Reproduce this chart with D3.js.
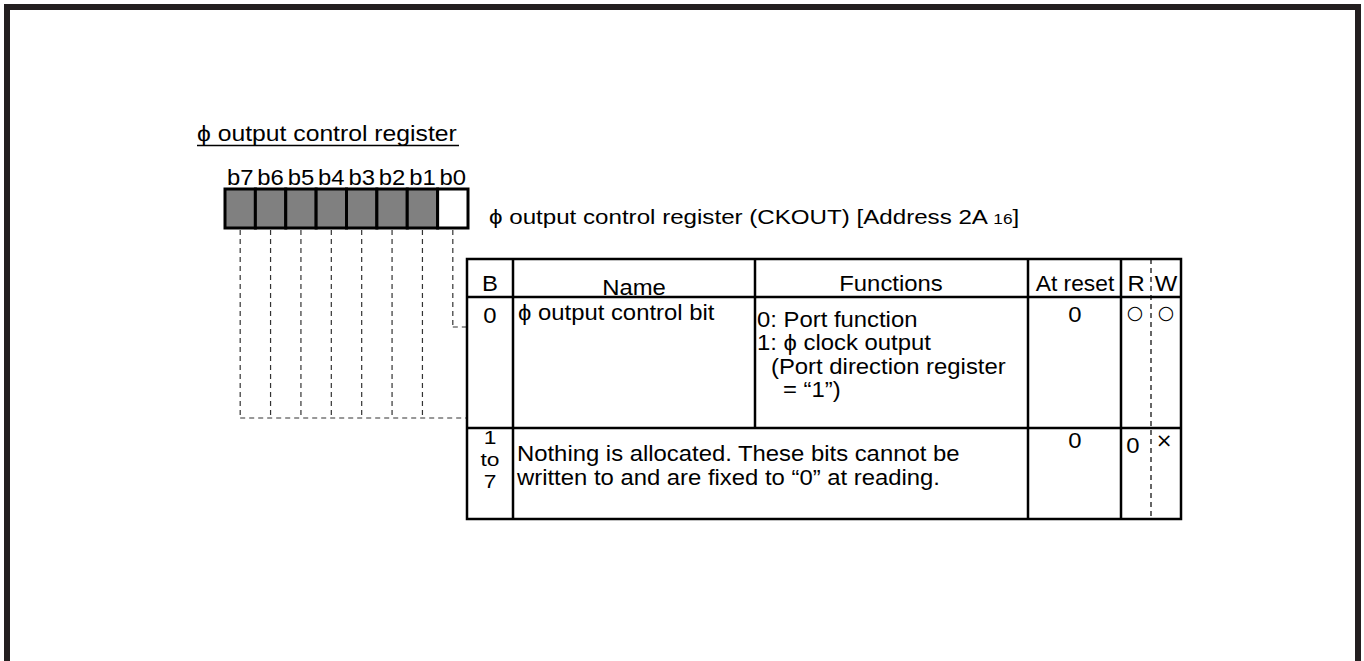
<!DOCTYPE html>
<html><head><meta charset="utf-8">
<script src="https://cdn.jsdelivr.net/npm/d3@7"></script>
<style>html,body{margin:0;padding:0;background:#fff;}svg{display:block;}</style>
</head><body>
<script>
// ---- data ----
const title = "\u03d5 output control register";
const bits = ["b7","b6","b5","b4","b3","b2","b1","b0"];
const bitReserved = [true,true,true,true,true,true,true,false];
const registerName = "\u03d5  output control register (CKOUT) [Address 2A ";
const registerAddrSub = "16";
const columns = ["B","Name","Functions","At reset","R","W"];
const row0Bit = ["0"];
const row0Name = ["\u03d5 output control bit"];
const row0Functions = ["0: Port function","1: \u03d5  clock output","(Port direction register","= \u201c1\u201d)"];
const row0Reset = "0";
const row0R = "\u25cb", row0W = "\u25cb";
const row1Bit = ["1","to","7"];
const row1Text = ["Nothing is allocated. These bits cannot be","written to and are fixed to \u201c0\u201d at reading."];
const row1Reset = "0";
const row1R = "0", row1W = "\u00d7";

// ---- layout ----
const W = 1364, H = 661;
const FONT = "'Liberation Sans', Arial, Helvetica, sans-serif";
const FS = 21.5, SX = 1.11;
const svg = d3.select("body").append("svg").attr("width", W).attr("height", H);

// frame
svg.append("rect").attr("x",7).attr("y",7).attr("width",1351).attr("height",720)
  .attr("fill","none").attr("stroke","#231f20").attr("stroke-width",6);

function txt(x, y, s, anchor, size, sx, fam) {
  return svg.append("text")
    .attr("transform", `translate(${x},${y}) scale(${sx==null?SX:sx},1)`)
    .attr("text-anchor", anchor || "start")
    .attr("font-family", fam || FONT).attr("font-size", size || FS)
    .attr("fill","#000").text(s);
}

// title
txt(197, 141, title, "start", 21.5, 1.15);
svg.append("line").attr("x1",197).attr("x2",459).attr("y1",145.5).attr("y2",145.5)
  .attr("stroke","#000").attr("stroke-width",1.5);

// register bits
const xb = d3.scaleBand().domain(bits).range([225, 468]).padding(0);
const boxTop = 189, boxBot = 228;
bits.forEach((b,i) => txt(xb(b)+xb.bandwidth()/2, 185, b, "middle"));
svg.selectAll("rect.bit").data(bits).join("rect").attr("class","bit")
  .attr("x", d => xb(d)).attr("y", boxTop)
  .attr("width", xb.bandwidth()).attr("height", boxBot-boxTop)
  .attr("fill", (d,i) => bitReserved[i] ? "#808080" : "#fff")
  .attr("stroke","#000").attr("stroke-width",3);

// register name
const t = txt(489, 224, registerName, "start", 21, 1.15);
t.append("tspan").attr("font-size", 15).text(registerAddrSub);
t.append("tspan").text("]");

// table
const colX = [467, 513, 755, 1028, 1121, 1151, 1181];
const rowY = [259, 297, 428, 519];
const dash = "5,4";
const dashY0 = 418, b0Y = 327;
bits.forEach((b,i) => {
  const cx = xb(b)+xb.bandwidth()/2;
  const yEnd = bitReserved[i] ? dashY0 : b0Y;
  svg.append("line").attr("x1",cx).attr("x2",cx).attr("y1",boxBot+2).attr("y2",yEnd)
    .attr("stroke","#333").attr("stroke-width",1.2).attr("stroke-dasharray",dash);
  if (!bitReserved[i]) {
    svg.append("line").attr("x1",cx).attr("x2",colX[0]).attr("y1",b0Y).attr("y2",b0Y)
      .attr("stroke","#333").attr("stroke-width",1.2).attr("stroke-dasharray",dash);
  }
});
svg.append("line").attr("x1",xb(bits[0])+xb.bandwidth()/2).attr("x2",colX[0])
  .attr("y1",dashY0).attr("y2",dashY0)
  .attr("stroke","#333").attr("stroke-width",1.2).attr("stroke-dasharray",dash);

const g = svg.append("g").attr("stroke","#000").attr("stroke-width",2.5).attr("fill","none");
g.append("rect").attr("x",colX[0]).attr("y",rowY[0]).attr("width",colX[6]-colX[0]).attr("height",rowY[3]-rowY[0]);
rowY.slice(1,3).forEach(y => g.append("line").attr("x1",colX[0]).attr("x2",colX[6]).attr("y1",y).attr("y2",y));
[1,3,4].forEach(c => g.append("line").attr("x1",colX[c]).attr("x2",colX[c]).attr("y1",rowY[0]).attr("y2",rowY[3]));
g.append("line").attr("x1",colX[2]).attr("x2",colX[2]).attr("y1",rowY[0]).attr("y2",rowY[2]);
svg.append("line").attr("x1",colX[5]).attr("x2",colX[5]).attr("y1",rowY[0]).attr("y2",rowY[3])
  .attr("stroke","#000").attr("stroke-width",1.2).attr("stroke-dasharray",dash);

// header
const hdrX = [490, 634, 891, 1075, 1136, 1166];
const hdrY = [291, 295, 291, 291, 291, 291];
columns.forEach((c,i) => txt(hdrX[i], hdrY[i], c, "middle", FS, c==="At reset"?1.06:SX));

// row 0
txt(490, 323, row0Bit[0], "middle");
txt(518, 320, row0Name[0], "start");
const fx = [757, 757, 771, 783];
const fy = [327, 350, 374, 397];
row0Functions.forEach((s,i) => txt(fx[i], fy[i], s, "start"));
txt(1075, 322, row0Reset, "middle");
txt(1135, 319, row0R, "middle", 19, 1, "'DejaVu Sans', sans-serif");
txt(1166, 319, row0W, "middle", 19, 1, "'DejaVu Sans', sans-serif");

// row 1
const by = [444, 466, 488];
row1Bit.forEach((s,i) => txt(490, by[i], s, "middle", 19, 1.2));
const ty = [461, 485];
row1Text.forEach((s,i) => txt(517, ty[i], s, "start"));
txt(1075, 448, row1Reset, "middle");
txt(1133, 453, row1R, "middle");
txt(1164, 447, row1W, "middle", 20, 1, "'DejaVu Sans', sans-serif");
</script>
</body></html>
